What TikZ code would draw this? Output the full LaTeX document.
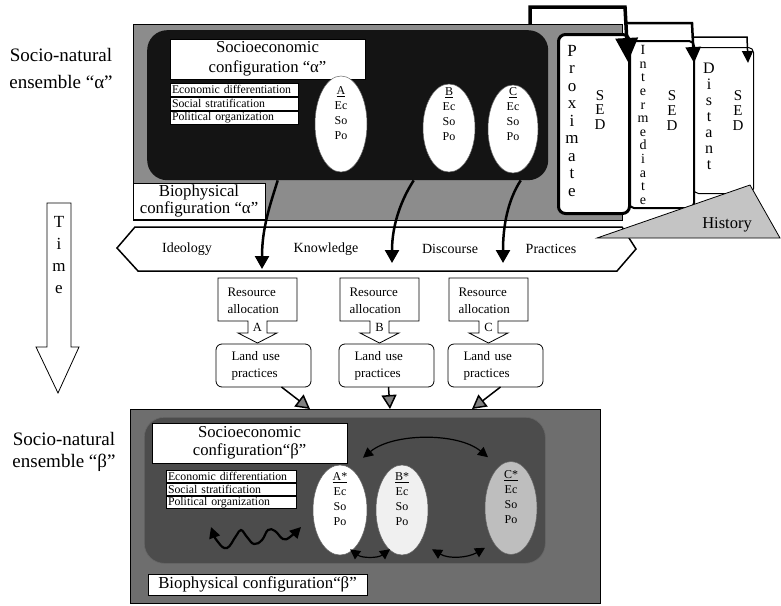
\documentclass[tikz,border=0pt]{standalone}
\usepackage{fontspec}
\setmainfont{Liberation Serif}
\usetikzlibrary{arrows.meta,shapes.geometric,calc}
\newcommand{\fsz}[2]{\fontsize{#1pt}{#2pt}\selectfont}
\definecolor{alphagray}{HTML}{8C8C8C}
\definecolor{alphadark}{HTML}{141414}
\definecolor{betagray}{HTML}{6E6E6E}
\definecolor{betadark}{HTML}{4C4C4C}
\definecolor{histgray}{HTML}{C4C4C4}
\definecolor{cstar}{HTML}{BEBEBE}
\definecolor{bstar}{HTML}{F0F0F0}
\newcommand{\resalloc}[3]{%
  \draw[line width=0.8pt, fill=white] (#2,278) -- ++(79,0) -- ++(0,43) -- ++(-30,0) -- ++(0,12) -- ++(10,0) -- ++(-19.5,10) -- ++(-19.5,-10) -- ++(10,0) -- ++(0,-12) -- ++(-30,0) -- cycle;
  \node[font=\fsz{13}{17}, align=left, anchor=west] (#1) at (#2+6,301) {Resource\\allocation};
  \node[font=\fsz{12.5}{13}] (#1lab) at (#2+39.5,327) {#3};
}
\begin{document}
\begin{tikzpicture}[x=1pt,y=-1pt,
  wbox/.style={draw, fill=white, inner sep=0pt, outer sep=0pt, anchor=north west},
  smallbox/.style={wbox, line width=0.6pt, text width=124pt, inner xsep=2pt, align=left, font=\fsz{11.8}{13}},
  ell/.style={ellipse, fill=white, draw=black!60, line width=0.5pt, inner sep=0pt},
  elltext/.style={font=\fsz{12}{15}, align=center},
  sedbox/.style={draw, fill=white, anchor=north west, inner sep=0pt},
  bigarrow/.style={line width=2.5pt, -{Triangle[length=13pt,width=14pt]}},
  grayarrow/.style={line width=1.5pt, -{Triangle[length=14pt,width=15pt,fill=gray]}},
  dbl/.style={line width=1.2pt, {Triangle[length=10pt,width=10pt]}-{Triangle[length=10pt,width=10pt]}},
  bandword/.style={font=\fsz{14}{16}},
  landuse/.style={wbox, rounded corners=6pt, line width=0.8pt, minimum width=95pt, minimum height=43pt, text width=64pt, inner xsep=15pt, align=left, font=\fsz{13}{17}}
]
\useasboundingbox (0,0) rectangle (781,605);

% left labels
\node[font=\fsz{19}{27}, align=center] (snalpha) at (61,69) {Socio-natural\\ensemble “α”};
\node[font=\fsz{19}{22}, align=center] (snbeta) at (64,452) {Socio-natural\\ensemble “β”};

% time arrow
\draw[line width=0.8pt, fill=white] (47,203) -- (71,203) -- (71,347) -- (79,347) -- (58,393) -- (36,347) -- (47,347) -- cycle;
\node[font=\fsz{17}{22}, align=center] (time) at (59,255) {T\\i\\m\\e};

% alpha ensemble
\node[draw, line width=1pt, fill=alphagray, anchor=north west, minimum width=489pt, minimum height=196pt, inner sep=0pt] (alphaouter) at (133,24) {};
\node[fill=alphadark, rounded corners=20pt, anchor=north west, minimum width=401pt, minimum height=150pt, inner sep=0pt] (alphainner) at (147,30) {};
\node[wbox, line width=0.6pt, minimum width=195pt, minimum height=40pt, align=center, font=\fsz{16.7}{20}] (secalpha) at (170,39) {Socioeconomic\\configuration “α”};
\node[smallbox, minimum height=13.5pt] (ecoalpha) at (170,83) {Economic differentiation};
\node[smallbox, minimum height=13.5pt] (socalpha) at (170,97) {Social stratification};
\node[smallbox, minimum height=13.5pt] (polalpha) at (170,111) {Political organization};
\node[ell, minimum width=52pt, minimum height=96pt] (ellA) at (341,124) {};
\node[elltext] (txtA) at (341,113) {\underline{A}\\Ec\\So\\Po};
\node[ell, minimum width=52pt, minimum height=88pt] (ellB) at (449,128) {};
\node[elltext] (txtB) at (449,114) {\underline{B}\\Ec\\So\\Po};
\node[ell, minimum width=50pt, minimum height=88pt] (ellC) at (513,129) {};
\node[elltext] (txtC) at (513,114) {\underline{C}\\Ec\\So\\Po};
\node[wbox, line width=0.6pt, minimum width=132pt, minimum height=36pt, align=center, font=\fsz{16.8}{17.5}] (bioalpha) at (133,183) {Biophysical\\configuration “α”};

% SED boxes
\node[sedbox, line width=1pt, rounded corners=5pt, minimum width=60pt, minimum height=146pt] (dist) at (693,47) {};
\node[sedbox, line width=2pt, rounded corners=5pt, minimum width=65pt, minimum height=167pt] (inter) at (628,40) {};
\node[sedbox, line width=3pt, rounded corners=7pt, minimum width=71pt, minimum height=179pt] (prox) at (557,33) {};
\node[font=\fsz{17}{17.5}, align=center] (proxt) at (572,121) {P\\r\\o\\x\\i\\m\\a\\t\\e};
\node[font=\fsz{15}{14.5}, align=center] (proxsed) at (600,110) {S\\E\\D};
\node[font=\fsz{14}{13.6}, align=center] (intert) at (643,125) {I\\n\\t\\e\\r\\m\\e\\d\\i\\a\\t\\e};
\node[font=\fsz{15}{15}, align=center] (intersed) at (672,111) {S\\E\\D};
\node[font=\fsz{16}{16}, align=center] (distt) at (709,116) {D\\i\\s\\t\\a\\n\\t};
\node[font=\fsz{15}{15}, align=center] (distsed) at (738,111) {S\\E\\D};

% brackets between SED boxes
\draw[line width=3.5pt, -{Triangle[length=24pt,width=22pt]}] ($(alphaouter.north west)+(397,0)$) -- (530,7) -- (625,7) -- ($(prox.north east)+(-3,29)$);
\draw[line width=2.5pt, -{Triangle[length=16pt,width=15pt]}] (625,23) -- (692,23) -- ($(inter.north east)+(-1,23)$);
\draw[line width=1.5pt, -{Triangle[length=12pt,width=11pt]}] (692,37) -- (747,37) -- ($(dist.north east)+(-6,16)$);

% band
\draw[line width=1.5pt, fill=white] (135,227) -- (622,227) -- (636,249) -- (617,271) -- (138,271) -- (117,248) -- cycle;
\node[bandword] (ideo) at (187,249) {Ideology};
\node[bandword] (know) at (326,249) {Knowledge};
\node[bandword] (disc) at (450,249) {Discourse};
\node[bandword] (prac) at (551,249) {Practices};

% history
\draw[line width=0.8pt, fill=histgray] (597,238) -- (750,185) -- (780,238) -- cycle;
\node[font=\fsz{16.5}{18}] (hist) at (727,225) {History};

% arrows from alpha to band
\draw[bigarrow] ($(alphainner.south)+(-70,0)$) .. controls (270,205) and (262,228) .. (262,269);
\draw[bigarrow] ($(alphainner.south)+(66,0)$) .. controls (401,200) and (392,225) .. (392,263);
\draw[bigarrow] ($(alphainner.south)+(173,0)$) .. controls (508,200) and (503,225) .. (503,263);

% resource allocation
\resalloc{raA}{218}{A}
\resalloc{raB}{340}{B}
\resalloc{raC}{449}{C}

% land use
\node[landuse] (luA) at (216,344) {Land use\\practices};
\node[landuse] (luB) at (339,344) {Land use\\practices};
\node[landuse] (luC) at (448,344) {Land use\\practices};

% beta ensemble
\node[draw, line width=1.2pt, fill=betagray, anchor=north west, minimum width=470pt, minimum height=194pt, inner sep=0pt] (betaouter) at (130,409) {};
\node[draw=black!60, line width=0.6pt, fill=betadark, rounded corners=20pt, anchor=north west, minimum width=401pt, minimum height=146pt, inner sep=0pt] (betainner) at (144,417) {};
\node[wbox, line width=0.6pt, minimum width=195pt, minimum height=40pt, align=center, font=\fsz{16.7}{17.5}] (secbeta) at (152,423) {Socioeconomic\\configuration“β”};
\node[smallbox, minimum height=12pt, text width=126pt] (ecobeta) at (166,470.5) {Economic differentiation};
\node[smallbox, minimum height=12pt, text width=126pt] (socbeta) at (166,483.5) {Social stratification};
\node[smallbox, minimum height=12pt, text width=126pt] (polbeta) at (166,496.5) {Political organization};
\node[ell, minimum width=54pt, minimum height=90pt] (ellAs) at (340,510) {};
\node[elltext] (txtAs) at (340,499) {\underline{A*}\\Ec\\So\\Po};
\node[ell, fill=bstar, minimum width=52pt, minimum height=90pt] (ellBs) at (402,510) {};
\node[elltext] (txtBs) at (402,499) {\underline{B*}\\Ec\\So\\Po};
\node[ell, fill=cstar, minimum width=52pt, minimum height=93pt] (ellCs) at (511,508) {};
\node[elltext] (txtCs) at (511,497) {\underline{C*}\\Ec\\So\\Po};
\node[wbox, line width=0.6pt, minimum width=219pt, minimum height=21pt, font=\fsz{16.8}{18}] (biobeta) at (148,574) {Biophysical configuration“β”};

\draw[dbl] ($(ellAs.north)+(23,-7)$) .. controls +(30,-25) and +(-30,-25) .. ($(ellCs.north)+(-23,-4)$);
\draw[dbl] ($(ellAs.south)+(10,-6)$) .. controls +(12,9) and +(-12,9) .. ($(ellBs.south)+(-12,-6)$);
\draw[dbl] ($(ellBs.south)+(30,-6)$) .. controls +(17,10) and +(-17,10) .. ($(ellCs.south)+(-26,-7)$);
\draw[line width=2.2pt, {Triangle[length=11pt,width=11pt]}-{Triangle[length=11pt,width=11pt]}] plot[smooth, tension=0.7] coordinates {(211,527) (218,542) (227,548) (236,536) (241,530) (247,537) (254,544) (262,540) (268,530) (275,531) (283,539) (290,537) (301,527)};

% arrows land use -> beta
\draw[grayarrow] ($(luA.south)+(18,0)$) -- ($(betaouter.north west)+(180,0)$);
\draw[grayarrow] ($(luB.south)+(2,0)$) -- ($(betaouter.north west)+(260,0)$);
\draw[grayarrow] ($(luC.south)+(5,0)$) -- ($(betaouter.north west)+(342,0)$);
\end{tikzpicture}
\end{document}
